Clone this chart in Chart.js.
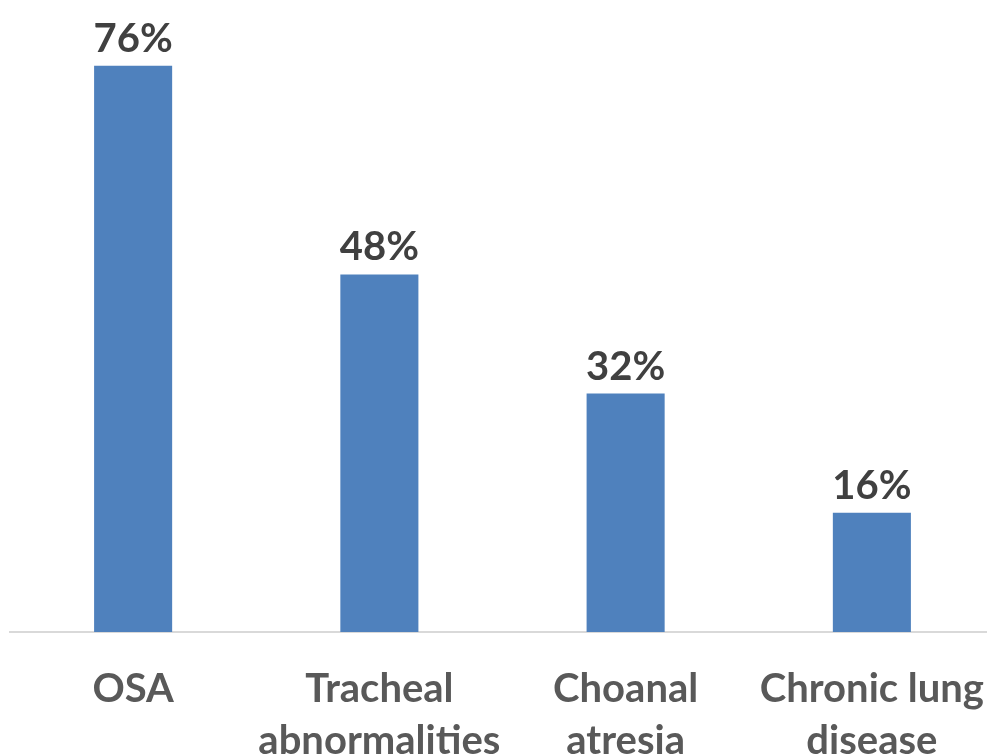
<!DOCTYPE html>
<html>
<head>
<meta charset="utf-8">
<script src="https://cdn.jsdelivr.net/npm/chart.js@4"></script>
<style>
  html, body { margin: 0; padding: 0; background: #fff; overflow: hidden; width: 987px; height: 755px; }
  #wrap { position: absolute; left: 0; top: 0; width: 1000px; height: 800px; }
</style>
</head>
<body>
<div id="wrap"><canvas id="c" width="1000" height="800"></canvas></div>
<script>
const categories = [['OSA'], ['Tracheal', 'abnormalities'], ['Choanal', 'atresia'], ['Chronic lung', 'disease']];
const percentValues = [76, 48, 32, 16];

const FONT = 'Lato, "Open Sans", sans-serif';

const valueLabels = {
  id: 'valueLabels',
  afterDatasetsDraw(chart) {
    const ctx = chart.ctx;
    const meta = chart.getDatasetMeta(0);
    ctx.save();
    ctx.font = 'bold 40px ' + FONT;
    ctx.fillStyle = '#404040';
    ctx.textAlign = 'center';
    ctx.textBaseline = 'alphabetic';
    meta.data.forEach((bar, i) => {
      ctx.fillText(percentValues[i] + '%', bar.x, bar.y - 14);
    });
    ctx.restore();
  }
};

new Chart(document.getElementById('c'), {
  type: 'bar',
  data: {
    labels: categories,
    datasets: [{
      data: percentValues,
      backgroundColor: '#4f81bd',
      borderWidth: 0,
      categoryPercentage: 1,
      barPercentage: 0.317
    }]
  },
  options: {
    responsive: false,
    animation: false,
    devicePixelRatio: 1,
    layout: { padding: { left: 10, right: 5, top: 36, bottom: 0 } },
    plugins: { legend: { display: false }, tooltip: { enabled: false } },
    scales: {
      x: {
        grid: { display: false, drawTicks: false },
        border: { display: true, color: '#d9d9d9', width: 2 },
        ticks: {
          color: '#595959',
          font: { family: FONT, size: 40, weight: 'bold', lineHeight: 1.3 },
          padding: 31,
          maxRotation: 0,
          autoSkip: false
        },
        afterFit(scale) {
          scale.height = 168;
          scale.paddingLeft = 0;
          scale.paddingRight = 0;
        }
      },
      y: {
        display: false,
        min: 0,
        max: 80
      }
    }
  },
  plugins: [valueLabels]
});
</script>
</body>
</html>
